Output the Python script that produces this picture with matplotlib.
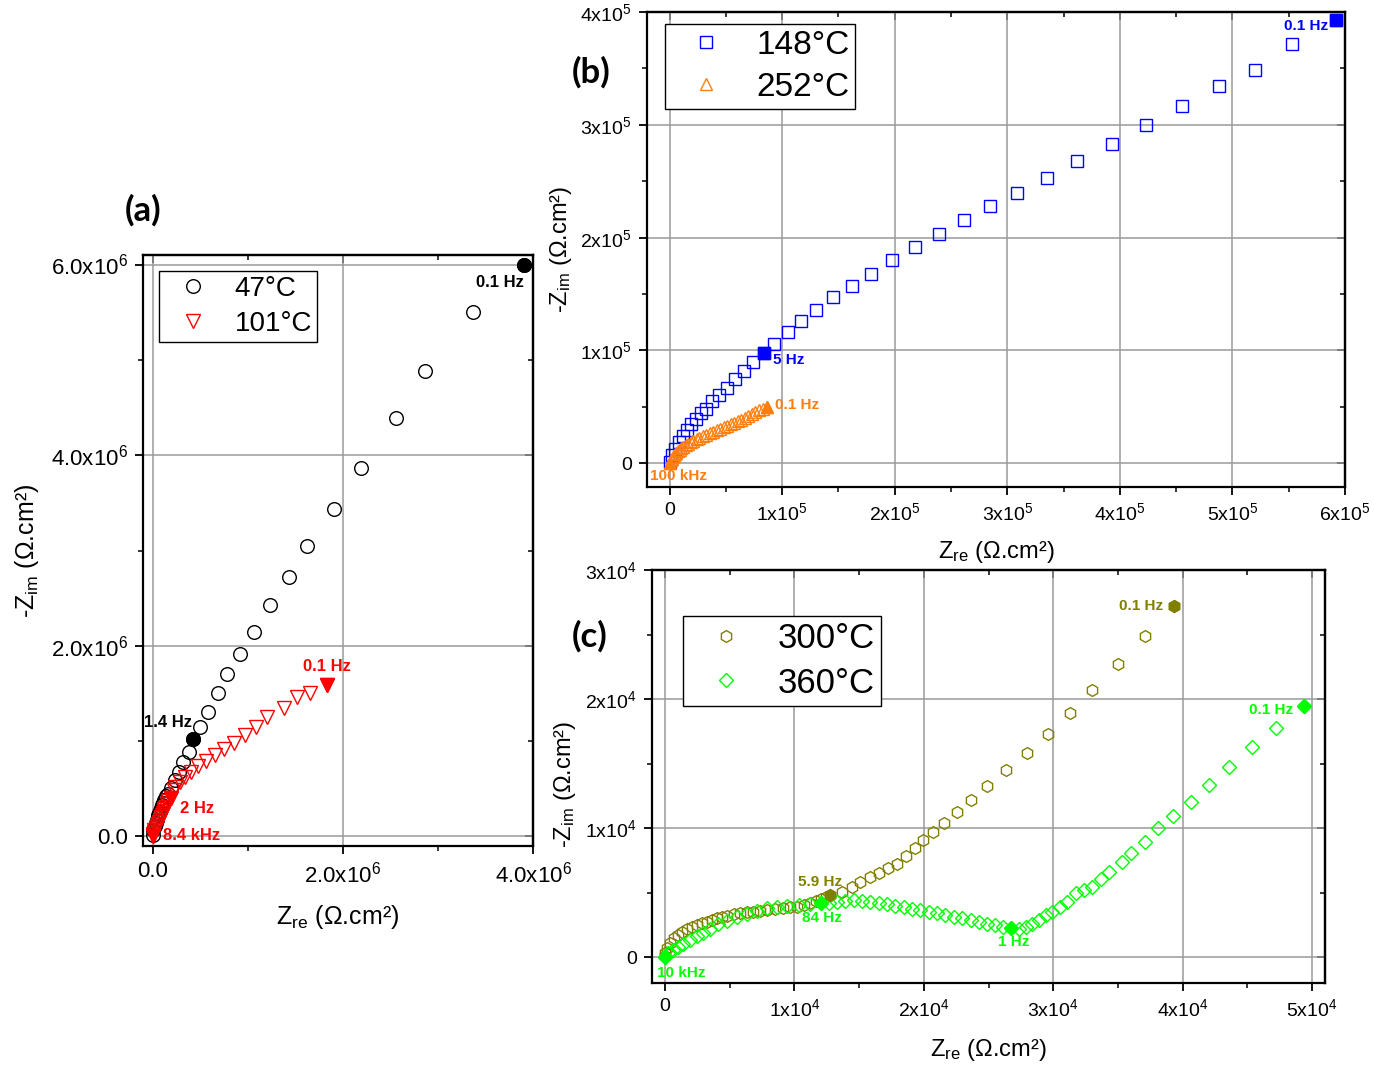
import numpy as np
import matplotlib
matplotlib.use("Agg")
import matplotlib.pyplot as plt

plt.rcParams['font.family'] = ['Liberation Sans', 'DejaVu Sans']
plt.rcParams['mathtext.fontset'] = 'custom'
plt.rcParams['mathtext.rm'] = 'Liberation Sans'
plt.rcParams['mathtext.it'] = 'Liberation Sans:italic'
plt.rcParams['mathtext.bf'] = 'Liberation Sans:bold'

# ---------------- data (a) : units of 1e6 Ohm.cm2 ----------------
x47 = [0.003, 0.01, 0.021, 0.032, 0.042, 0.053, 0.063, 0.074, 0.084, 0.095,
       0.11, 0.126, 0.142, 0.158, 0.19, 0.232, 0.274, 0.316, 0.379, 0.43,
       0.495, 0.58, 0.684, 0.78, 0.916, 1.07, 1.24, 1.44, 1.62, 1.905,
       2.19, 2.56, 2.86, 3.37, 3.905]
y47 = [0.02, 0.063, 0.115, 0.14, 0.168, 0.22, 0.245, 0.272, 0.3, 0.325,
       0.355, 0.387, 0.42, 0.45, 0.513, 0.597, 0.68, 0.785, 0.89, 1.02,
       1.15, 1.31, 1.50, 1.70, 1.91, 2.15, 2.43, 2.72, 3.05, 3.44,
       3.87, 4.39, 4.88, 5.50, 5.99]
x101 = [0.0, 0.004, 0.011, 0.02, 0.032, 0.042, 0.053, 0.063, 0.074, 0.084,
        0.095, 0.105, 0.116, 0.126, 0.137, 0.148, 0.158, 0.19, 0.222, 0.239,
        0.284, 0.337, 0.4, 0.477, 0.558, 0.653, 0.751, 0.856, 0.968, 1.092,
        1.207, 1.382, 1.523, 1.656, 1.83]
y101 = [0.01, 0.03, 0.052, 0.073, 0.094, 0.115, 0.136, 0.157, 0.178, 0.2,
        0.22, 0.241, 0.262, 0.288, 0.314, 0.34, 0.367, 0.40, 0.49, 0.524,
        0.576, 0.628, 0.68, 0.736, 0.796, 0.855, 0.918, 0.984, 1.068, 1.152,
        1.249, 1.343, 1.459, 1.505, 1.59]
lab47 = {19: "1.4 Hz", 34: "0.1 Hz"}
lab101 = {0: "8.4 kHz", 17: "2 Hz", 34: "0.1 Hz"}

# ---------------- data (b) : units of 1e5 Ohm.cm2 ----------------
x148 = [0.003, 0.024, 0.051, 0.083, 0.122, 0.157, 0.193, 0.231, 0.276, 0.323,
        0.374, 0.442, 0.507, 0.58, 0.66, 0.745, 0.84, 0.93, 1.05, 1.17,
        1.30, 1.45, 1.62, 1.79, 1.98, 2.18, 2.39, 2.62, 2.85, 3.09,
        3.35, 3.62, 3.93, 4.23, 4.55, 4.88, 5.20, 5.53, 5.92]
y148 = [0.012, 0.071, 0.131, 0.189, 0.24, 0.293, 0.344, 0.394, 0.442, 0.483,
        0.548, 0.602, 0.669, 0.744, 0.815, 0.90, 0.98, 1.06, 1.16, 1.26,
        1.36, 1.47, 1.57, 1.68, 1.80, 1.92, 2.03, 2.16, 2.28, 2.40,
        2.53, 2.68, 2.83, 3.00, 3.17, 3.34, 3.49, 3.72, 3.93]
x252 = [0.0, 0.009, 0.018, 0.027, 0.036, 0.045, 0.057, 0.072, 0.089, 0.106,
        0.124, 0.143, 0.164, 0.188, 0.212, 0.241, 0.266, 0.295, 0.324, 0.357,
        0.387, 0.421, 0.45, 0.483, 0.512, 0.545, 0.574, 0.606, 0.635, 0.668,
        0.698, 0.731, 0.759, 0.792, 0.831, 0.869]
y252 = [0.004, 0.026, 0.041, 0.054, 0.066, 0.079, 0.094, 0.106, 0.121, 0.133,
        0.146, 0.161, 0.172, 0.188, 0.199, 0.214, 0.226, 0.241, 0.252, 0.268,
        0.279, 0.294, 0.306, 0.321, 0.332, 0.348, 0.359, 0.374, 0.388, 0.405,
        0.419, 0.437, 0.452, 0.471, 0.482, 0.495]
lab148 = {16: "5 Hz", 38: "0.1 Hz"}
lab252 = {0: "100 kHz", 35: "0.1 Hz"}

# ---------------- data (c) : units of 1e4 Ohm.cm2 ----------------
x300 = [0.0, 0.0, 0.015, 0.039, 0.07, 0.10, 0.132, 0.17, 0.209, 0.248,
        0.286, 0.325, 0.364, 0.402, 0.441, 0.48, 0.534, 0.58, 0.635, 0.681,
        0.735, 0.789, 0.851, 0.913, 0.967, 1.022, 1.076, 1.122, 1.169, 1.207,
        1.246, 1.277, 1.368, 1.445, 1.509, 1.581, 1.651, 1.721, 1.793, 1.865,
        1.935, 1.997, 2.074, 2.159, 2.26, 2.368, 2.485, 2.632, 2.794, 2.957,
        3.132, 3.303, 3.504, 3.71, 3.937]
y300 = [0.008, 0.031, 0.07, 0.109, 0.147, 0.171, 0.194, 0.217, 0.233, 0.248,
        0.264, 0.271, 0.287, 0.302, 0.31, 0.318, 0.333, 0.341, 0.349, 0.349,
        0.357, 0.364, 0.372, 0.38, 0.388, 0.388, 0.403, 0.419, 0.434, 0.45,
        0.465, 0.481, 0.506, 0.545, 0.584, 0.618, 0.653, 0.688, 0.721, 0.783,
        0.845, 0.907, 0.969, 1.039, 1.124, 1.217, 1.326, 1.45, 1.581, 1.729,
        1.889, 2.07, 2.269, 2.488, 2.723]
x360 = [0.0, 0.026, 0.064, 0.103, 0.142, 0.193, 0.245, 0.296, 0.348, 0.413,
        0.478, 0.555, 0.632, 0.71, 0.787, 0.865, 0.942, 1.032, 1.122, 1.205,
        1.267, 1.329, 1.393, 1.457, 1.522, 1.587, 1.651, 1.716, 1.78, 1.844,
        1.909, 1.974, 2.038, 2.103, 2.167, 2.231, 2.296, 2.361, 2.425, 2.49,
        2.554, 2.614, 2.67, 2.735, 2.786, 2.838, 2.889, 2.941, 2.993, 3.052,
        3.109, 3.173, 3.238, 3.303, 3.367, 3.431, 3.529, 3.604, 3.707, 3.813,
        3.927, 4.063, 4.2, 4.358, 4.533, 4.724, 4.94]
y360 = [0.0, 0.029, 0.054, 0.08, 0.101, 0.132, 0.163, 0.191, 0.222, 0.256,
        0.279, 0.308, 0.333, 0.359, 0.378, 0.39, 0.399, 0.407, 0.412, 0.416,
        0.423, 0.429, 0.436, 0.442, 0.436, 0.429, 0.421, 0.411, 0.398, 0.385,
        0.37, 0.364, 0.351, 0.339, 0.326, 0.312, 0.3, 0.287, 0.274, 0.261,
        0.248, 0.235, 0.227, 0.222, 0.235, 0.261, 0.292, 0.326, 0.351, 0.39,
        0.429, 0.494, 0.519, 0.545, 0.602, 0.657, 0.734, 0.804, 0.891, 1.002,
        1.091, 1.204, 1.336, 1.471, 1.63, 1.773, 1.948]
lab300 = {31: "5.9 Hz", 54: "0.1 Hz"}
lab360 = {0: "10 kHz", 19: "84 Hz", 42: "1 Hz", 66: "0.1 Hz"}

# ticks / labels
a_xt = [0, 2e6, 4e6]; a_xtl = ["0.0", r"2.0x10$^{6}$", r"4.0x10$^{6}$"]
a_yt = [0, 2e6, 4e6, 6e6]; a_ytl = ["0.0", r"2.0x10$^{6}$", r"4.0x10$^{6}$", r"6.0x10$^{6}$"]
b_xt = [0, 1e5, 2e5, 3e5, 4e5, 5e5, 6e5]
b_xtl = ["0"] + [r"%dx10$^{5}$" % i for i in range(1, 7)]
b_yt = [0, 1e5, 2e5, 3e5, 4e5]
b_ytl = ["0"] + [r"%dx10$^{5}$" % i for i in range(1, 5)]
c_xt = [0, 1e4, 2e4, 3e4, 4e4, 5e4]
c_xtl = ["0"] + [r"%dx10$^{4}$" % i for i in range(1, 6)]
c_yt = [0, 1e4, 2e4, 3e4]
c_ytl = ["0"] + [r"%dx10$^{4}$" % i for i in range(1, 4)]

W, H = 1374, 1068
fig = plt.figure(figsize=(W / 100, H / 100), dpi=100)

def rect(l, t, r, b):
    return [l / W, 1 - b / H, (r - l) / W, (b - t) / H]

axA = fig.add_axes(rect(143, 255, 533, 846))
axB = fig.add_axes(rect(647, 12, 1345, 487))
axC = fig.add_axes(rect(652, 570, 1325, 983))

def style(ax, xt, xtl, yt, ytl, xlim, ylim, fs):
    ax.set_xlim(*xlim); ax.set_ylim(*ylim)
    ax.set_xticks(xt); ax.set_xticklabels(xtl)
    ax.set_yticks(yt); ax.set_yticklabels(ytl)
    xm = [(xt[i] + xt[i + 1]) / 2 for i in range(len(xt) - 1)]
    ym = [(yt[i] + yt[i + 1]) / 2 for i in range(len(yt) - 1)]
    ax.set_xticks(xm, minor=True); ax.set_yticks(ym, minor=True)
    ax.tick_params(which='major', direction='out', length=6, width=1.3, labelsize=fs, pad=5)
    ax.tick_params(which='minor', direction='out', length=3.5, width=1.1)
    for s in ax.spines.values():
        s.set_linewidth(1.6)
    ax.grid(True, which='major', color='#9a9a9a', lw=1.1)
    ax.set_axisbelow(True)
    top = ax.secondary_xaxis('top')
    top.set_xticks(xt); top.set_xticks(xm, minor=True)
    top.set_xticklabels([])
    top.tick_params(which='major', direction='in', length=6, width=1.3)
    top.tick_params(which='minor', direction='in', length=3.5, width=1.1)
    top.spines['top'].set_linewidth(1.6)
    right = ax.secondary_yaxis('right')
    right.set_yticks(yt); right.set_yticks(ym, minor=True)
    right.set_yticklabels([])
    right.tick_params(which='major', direction='in', length=6, width=1.3)
    right.tick_params(which='minor', direction='in', length=3.5, width=1.1)
    right.spines['right'].set_linewidth(1.6)

def series(ax, xs, ys, sc, marker, color, ms, label, labs, offs, tcol, fs=11):
    xs = np.array(xs) * sc; ys = np.array(ys) * sc
    ax.plot(xs, ys, ls='none', marker=marker, ms=ms, mfc='none', mec=color,
            mew=1.0, label=label, clip_on=False, zorder=3)
    for i, txt in labs.items():
        ax.plot(xs[i], ys[i], ls='none', marker=marker, ms=ms, mfc=color,
                mec=color, mew=1.0, clip_on=False, zorder=4)
        dx, dy, ha = offs[i]
        ax.annotate(txt, (xs[i], ys[i]), xytext=(dx, dy), textcoords='offset pixels',
                    ha=ha, va='center', color=tcol, fontsize=fs, fontweight='bold',
                    zorder=5)

# ---- panel (a)
style(axA, a_xt, a_xtl, a_yt, a_ytl, (-1e5, 4e6), (-1e5, 6.1e6), 16)
series(axA, x47, y47, 1e6, 'o', 'black', 9.8, "47°C", lab47,
       {19: (-25, 17, 'center'), 34: (-24, -17, 'center')}, 'black', fs=12)
series(axA, x101, y101, 1e6, 'v', '#ff0000', 10, "101°C", lab101,
       {0: (10, 0, 'left'), 17: (9, -10, 'left'), 34: (0, 18, 'center')}, '#ff0000', fs=12)

# ---- panel (b)
style(axB, b_xt, b_xtl, b_yt, b_ytl, (-2e4, 6e5), (-2.1e4, 4e5), 14)
series(axB, x148, y148, 1e5, 's', '#0000ff', 8, "148°C", lab148,
       {16: (9, -7, 'left'), 38: (-30, -6, 'center')}, '#0000ff')
series(axB, x252, y252, 1e5, '^', '#ff7f0e', 9, "252°C", lab252,
       {0: (-20, -13, 'left'), 35: (8, 2, 'left')}, '#ff7f0e')

# ---- panel (c)
style(axC, c_xt, c_xtl, c_yt, c_ytl, (-1e3, 5.1e4), (-2e3, 3e4), 14)
series(axC, x300, y300, 1e4, 'h', '#808000', 8.5, "300°C", lab300,
       {31: (-10, 13, 'center'), 54: (-33, 0, 'center')}, '#808000')
series(axC, x360, y360, 1e4, 'D', '#00ff00', 7, "360°C", lab360,
       {0: (-8, -16, 'left'), 19: (1, -15, 'center'), 42: (3, -14, 'center'),
        66: (-33, -4, 'center')}, '#00ff00')

# axis labels
xl = r"Z$_{\mathrm{re}}$ (Ω.cm²)"
yl = r"-Z$_{\mathrm{im}}$ (Ω.cm²)"
axA.set_xlabel(xl, fontsize=18); axA.set_ylabel(yl, fontsize=18)
axA.xaxis.set_label_coords(0.5, -0.097); axA.yaxis.set_label_coords(-0.262, 0.5)
axB.set_xlabel(xl, fontsize=17); axB.set_ylabel(yl, fontsize=17)
axB.xaxis.set_label_coords(0.5, -0.11); axB.yaxis.set_label_coords(-0.105, 0.5)
axC.set_xlabel(xl, fontsize=17); axC.set_ylabel(yl, fontsize=17)
axC.xaxis.set_label_coords(0.5, -0.13); axC.yaxis.set_label_coords(-0.11, 0.48)

# legends
def leg(ax, anchor, fs):
    lg = ax.legend(loc='upper left', bbox_to_anchor=anchor, fontsize=fs,
                   frameon=True, fancybox=False, edgecolor='black', framealpha=1,
                   handlelength=2.1, handletextpad=0.45, borderpad=0.18,
                   labelspacing=0.33, borderaxespad=0, markerscale=1.0)
    lg.get_frame().set_linewidth(1.0)
    return lg

leg(axA, (0.041, 0.973), 20)
leg(axB, (0.026, 0.975), 24)
leg(axC, (0.046, 0.889), 25)

# panel letters
for t, (px, py) in {"(a)": (143, 210), "(b)": (591, 72), "(c)": (590, 636)}.items():
    fig.text(px / W, 1 - py / H, t, fontsize=25, fontweight='bold',
             family=['Lato', 'DejaVu Sans'], ha='center', va='center')

fig.savefig("out.png", dpi=100)
